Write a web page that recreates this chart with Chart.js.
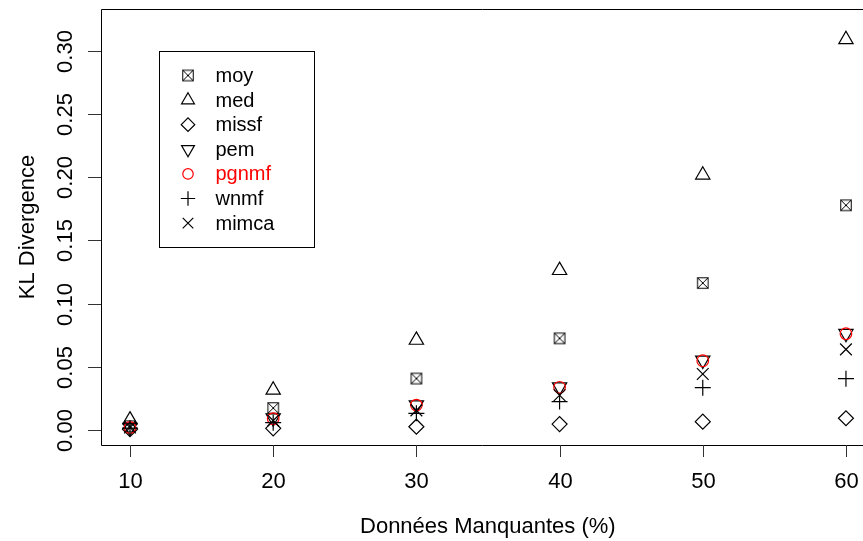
<!DOCTYPE html>
<html>
<head>
<meta charset="utf-8">
<script src="https://cdn.jsdelivr.net/npm/chart.js@4.4.0/dist/chart.umd.min.js"></script>
<style>
  html, body { margin: 0; padding: 0; background: #fff; overflow: hidden; }
  #c { display: block; }
</style>
</head>
<body>
<canvas id="c" width="863" height="541"></canvas>
<script>
// missing data percentage
const missing = [10, 20, 30, 40, 50, 60];

// KL divergence per method
const moy   = [0.003, 0.0174, 0.0407, 0.0725, 0.1163, 0.1778];
const med   = [0.008, 0.0316, 0.0711, 0.1263, 0.2018, 0.309];
const missf = [0.0006, 0.0013, 0.0026, 0.0047, 0.0066, 0.0093];
const pem   = [0.002, 0.0095, 0.0198, 0.034, 0.0552, 0.0763];
const pgnmf = [0.002, 0.009, 0.0197, 0.0338, 0.0548, 0.0762];
const wnmf  = [0.0015, 0.0058, 0.0132, 0.0225, 0.0335, 0.0406];
const mimca = [0.002, 0.0074, 0.0155, 0.0275, 0.0443, 0.0638];

const xTicks = [10, 20, 30, 40, 50, 60];
const yTicks = [0, 0.05, 0.10, 0.15, 0.20, 0.25, 0.30];

const FONT = '"Liberation Sans", Arial, Helvetica, sans-serif';

// boxed x symbol (R pch 7)
function boxX(n) {
  const cv = document.createElement('canvas');
  cv.width = n; cv.height = n;
  const g = cv.getContext('2d');
  g.strokeStyle = '#000';
  g.lineWidth = 1;
  const a = (n - 10.5) / 2, b = n - a;
  g.strokeRect(a, a, b - a, b - a);
  g.beginPath();
  g.moveTo(a, a); g.lineTo(b, b);
  g.moveTo(b, a); g.lineTo(a, b);
  g.stroke();
  return cv;
}
const boxMark = boxX(14);

function pts(ys) {
  return missing.map((x, i) => ({ x: x, y: ys[i] }));
}

const series = [
  { label: 'moy',   data: moy,   style: boxMark,    r: 7,    rot: 0,   color: '#000' },
  { label: 'med',   data: med,   style: 'triangle', r: 8.25, rot: 0,   color: '#000' },
  { label: 'missf', data: missf, style: 'rectRot',  r: 7.5,  rot: 0,   color: '#000' },
  { label: 'pem',   data: pem,   style: 'triangle', r: 8.25, rot: 180, color: '#000' },
  { label: 'pgnmf', data: pgnmf, style: 'circle',   r: 5.8,  rot: 0,   color: '#ff0000' },
  { label: 'wnmf',  data: wnmf,  style: 'cross',    r: 8,    rot: 0,   color: '#000' },
  { label: 'mimca', data: mimca, style: 'crossRot', r: 8.3,  rot: 0,   color: '#000' }
];

// R style frame, ticks, labels and legend
const rAxes = {
  id: 'rAxes',
  afterDraw(chart) {
    const ctx = chart.ctx;
    const a = chart.chartArea;
    const xs = chart.scales.x, ys = chart.scales.y;
    ctx.save();

    // box (right side is outside the picture)
    ctx.strokeStyle = '#000';
    ctx.lineWidth = 1;
    ctx.beginPath();
    ctx.moveTo(a.right + 2, Math.round(a.top) + 0.5);
    ctx.lineTo(Math.round(a.left) + 0.5, Math.round(a.top) + 0.5);
    ctx.lineTo(Math.round(a.left) + 0.5, Math.round(a.bottom) + 0.5);
    ctx.lineTo(a.right + 2, Math.round(a.bottom) + 0.5);
    ctx.stroke();

    ctx.fillStyle = '#000';
    ctx.font = '22px ' + FONT;

    // x ticks
    ctx.strokeStyle = '#333';
    ctx.textAlign = 'center';
    ctx.textBaseline = 'alphabetic';
    xTicks.forEach(v => {
      const px = Math.round(xs.getPixelForValue(v)) + 0.5;
      ctx.beginPath();
      ctx.moveTo(px, a.bottom);
      ctx.lineTo(px, a.bottom + 12);
      ctx.stroke();
      ctx.fillText(String(v), px, 488);
    });

    // y ticks, labels rotated like R
    yTicks.forEach(v => {
      const py = Math.round(ys.getPixelForValue(v)) + 0.5;
      ctx.beginPath();
      ctx.moveTo(a.left, py);
      ctx.lineTo(a.left - 13, py);
      ctx.stroke();
      ctx.save();
      ctx.translate(72, py);
      ctx.rotate(-Math.PI / 2);
      ctx.fillText(v.toFixed(2), 0, 0);
      ctx.restore();
    });

    // axis titles
    ctx.fillText('Données Manquantes (%)', (a.left + xs.getPixelForValue(62)) / 2, 533);
    ctx.save();
    ctx.translate(34, (a.top + a.bottom) / 2);
    ctx.rotate(-Math.PI / 2);
    ctx.fillText('KL Divergence', 0, 0);
    ctx.restore();

    // legend
    ctx.strokeStyle = '#000';
    ctx.lineWidth = 1;
    ctx.strokeRect(159.5, 51.5, 155, 196);
    ctx.font = '20px ' + FONT;
    ctx.textAlign = 'left';
    ctx.textBaseline = 'middle';
    series.forEach((s, i) => {
      const y = 75.5 + i * 24.6;
      ctx.strokeStyle = s.color;
      ctx.fillStyle = 'rgba(0,0,0,0)';
      ctx.lineWidth = 1.2;
      Chart.helpers.drawPoint(ctx, {
        pointStyle: s.style, radius: s.r * 0.9, rotation: s.rot, borderWidth: 1.2
      }, 188, y);
      ctx.fillStyle = s.color;
      ctx.fillText(s.label, 215.5, y + 1);
    });

    ctx.restore();
  }
};

new Chart(document.getElementById('c'), {
  type: 'scatter',
  data: {
    datasets: series.map((s, i) => ({
      label: s.label,
      data: pts(s.data),
      pointStyle: s.style,
      pointRadius: s.r,
      pointRotation: s.rot,
      pointBorderColor: s.color,
      pointBackgroundColor: 'rgba(0,0,0,0)',
      pointBorderWidth: 1.2,
      order: series.length - i
    }))
  },
  options: {
    responsive: false,
    animation: false,
    layout: { autoPadding: false, padding: { left: 101, top: 9, right: 0, bottom: 96 } },
    plugins: { legend: { display: false }, tooltip: { enabled: false } },
    scales: {
      x: { type: 'linear', min: 7.975, max: 61.19, display: false },
      y: { type: 'linear', min: -0.01187, max: 0.3331, display: false }
    }
  },
  plugins: [rAxes]
});
</script>
</body>
</html>
